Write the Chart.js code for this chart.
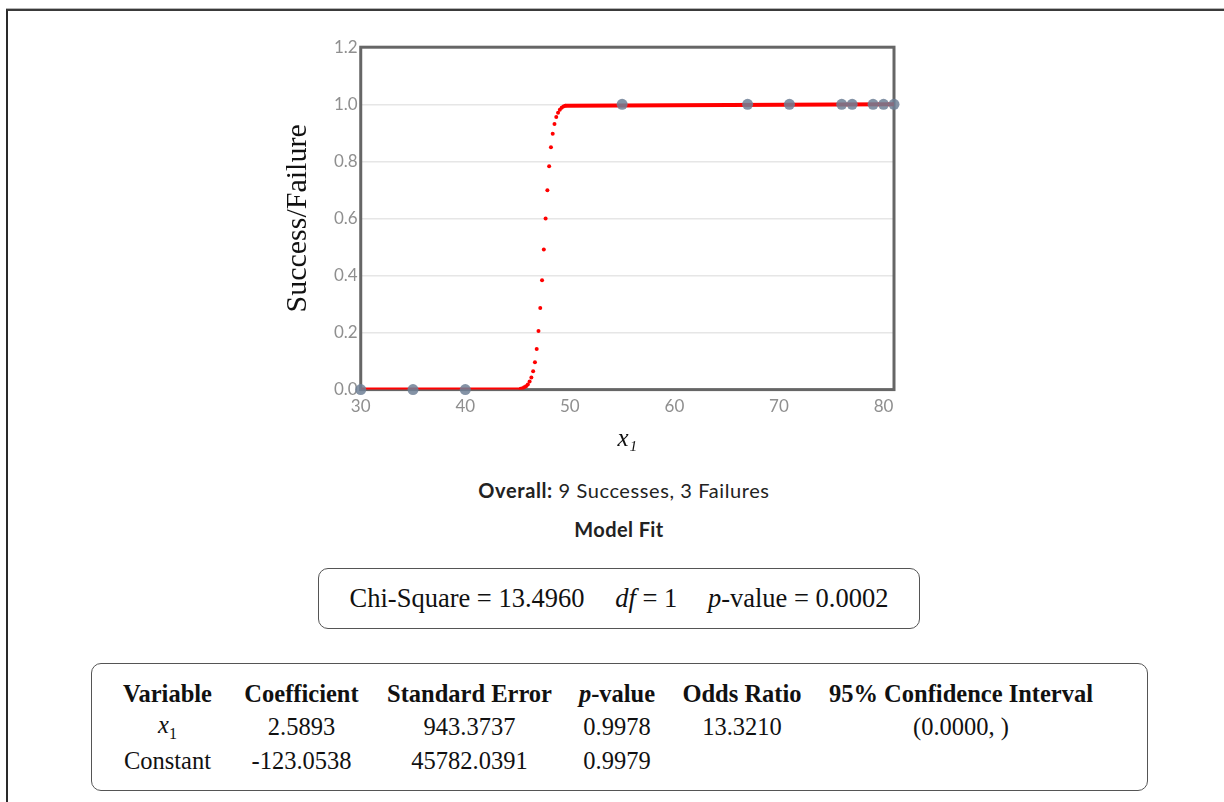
<!DOCTYPE html>
<html>
<head>
<meta charset="utf-8">
<script src="https://cdn.jsdelivr.net/npm/chart.js@4/dist/chart.umd.min.js"></script>
<style>
  body { margin: 0; background: #fff; width: 1224px; height: 802px; overflow: hidden; position: relative; }
  .page { position: absolute; left: 6px; top: 9px; right: -10px; bottom: -10px; border-top: 2px solid #3a3a3a; border-left: 2px solid #2a2a2a; box-shadow: 0 -1px 0 #b5b5b5; }
  #chartBox { position: absolute; left: 280px; top: 34px; width: 632px; height: 420px; }
  .sans { font-family: Lato, "Open Sans", sans-serif; color: #222; position: absolute; text-align: center; }
  #overall { left: 374px; width: 500px; top: 478px; font-size: 20px; letter-spacing: 0.6px; }
  #overall b { font-weight: 700; }
  #modelFit { left: 369px; width: 500px; top: 517px; font-size: 20px; font-weight: 700; letter-spacing: 0.4px; }
  .box { position: absolute; border: 1.5px solid #555; border-radius: 10px; background: #fff; }
  #chiBox { left: 318px; top: 568px; width: 600px; height: 59px; font-family: "Liberation Serif", serif; font-size: 26.5px; color: #111; text-align: center; line-height: 59px; }
  #chiBox span.gap { display: inline-block; width: 24px; }
  #tableBox { left: 91px; top: 663px; width: 1055px; height: 126px; }
  table { position: absolute; left: 14px; top: 13px; border-collapse: collapse; table-layout: fixed; font-family: "Liberation Serif", serif; font-size: 24.5px; color: #111; }
  td, th { text-align: center; padding: 0; height: 33.5px; white-space: nowrap; }
  th { font-weight: 700; }
  i { font-style: italic; }
</style>
</head>
<body>
<div class="page"></div>
<div id="chartBox"><canvas id="fitChart"></canvas></div>
<div id="overall" class="sans"><b>Overall:</b> 9 Successes, 3 Failures</div>
<div id="modelFit" class="sans">Model Fit</div>
<div id="chiBox" class="box">Chi-Square = 13.4960<span class="gap"></span> <i>df</i> = 1<span class="gap"></span> <i>p</i>-value = 0.0002</div>
<div id="tableBox" class="box">
  <table>
    <colgroup>
      <col style="width:123px"><col style="width:145px"><col style="width:191px"><col style="width:104px"><col style="width:146px"><col style="width:292px">
    </colgroup>
    <tr><th>Variable</th><th>Coefficient</th><th>Standard Error</th><th><i>p</i>-value</th><th>Odds Ratio</th><th>95% Confidence Interval</th></tr>
    <tr><td><i>x</i><sub style="font-size:16px">1</sub></td><td>2.5893</td><td>943.3737</td><td>0.9978</td><td>13.3210</td><td>(0.0000, )</td></tr>
    <tr><td>Constant</td><td>-123.0538</td><td>45782.0391</td><td>0.9979</td><td></td><td></td></tr>
  </table>
</div>
<script>
// observed outcomes (0 = failure, 1 = success)
const obsX = [30, 35, 40, 55, 67, 71, 76, 77, 79, 80, 81];
const obsY = [0, 0, 0, 1, 1, 1, 1, 1, 1, 1, 1];

const fitX = [45.30, 45.47, 45.64, 45.81, 45.98, 46.15, 46.32, 46.49, 46.66, 46.83, 47.00, 47.17, 47.34,
              47.51, 47.68, 47.85, 48.02, 48.19, 48.36, 48.53, 48.70, 48.87, 49.04, 49.21, 49.38, 49.55];
const fitY = [0.003, 0.005, 0.008, 0.012, 0.018, 0.028, 0.042, 0.064, 0.096, 0.142, 0.205, 0.286, 0.383,
              0.491, 0.600, 0.699, 0.783, 0.849, 0.897, 0.931, 0.955, 0.970, 0.981, 0.988, 0.992, 0.995];

// flat parts of the fitted curve (null breaks the line)
const flatX = [30, 45.30, 47.5, 49.55, 81];
const flatY = [0, 0, null, 0.995, 1];

const xTicks = [30, 40, 50, 60, 70, 80];
const yTicks = [0, 0.2, 0.4, 0.6, 0.8, 1.0, 1.2];

function toPoints(xs, ys) {
    return xs.map((x, i) => ({ x: x, y: ys[i] }));
}

// frame around the plot area
const framePlugin = {
    id: 'frame',
    beforeDatasetsDraw(chart) {
        const a = chart.chartArea;
        const ctx = chart.ctx;
        ctx.save();
        ctx.strokeStyle = '#666';
        ctx.lineWidth = 3;
        ctx.strokeRect(a.left, a.top, a.right - a.left, a.bottom - a.top);
        ctx.restore();
    }
};

const ctx = document.getElementById('fitChart').getContext('2d');
new Chart(ctx, {
    type: 'scatter',
    data: {
        datasets: [{
            label: 'Observed',
            data: toPoints(obsX, obsY),
            pointRadius: 5.5,
            backgroundColor: 'rgba(110, 128, 150, 0.85)',
            borderWidth: 0,
            clip: false,
            order: 0
        }, {
            label: 'Fit',
            data: toPoints(fitX, fitY),
            pointRadius: 2,
            backgroundColor: '#ff0000',
            borderWidth: 0,
            order: 1
        }, {
            label: 'Fit flat',
            data: toPoints(flatX, flatY),
            showLine: true,
            borderColor: '#ff0000',
            borderWidth: 4,
            pointRadius: 0,
            spanGaps: false,
            order: 2
        }]
    },
    options: {
        responsive: true,
        maintainAspectRatio: false,
        animation: false,
        layout: { padding: { top: 4, right: 18, left: 0, bottom: 0 } },
        plugins: {
            legend: { display: false },
            tooltip: { enabled: false }
        },
        scales: {
            x: {
                type: 'linear',
                min: 30,
                max: 81,
                afterBuildTicks: axis => { axis.ticks = xTicks.map(v => ({ value: v })); },
                grid: { display: false, drawTicks: false },
                border: { display: false },
                ticks: {
                    color: '#8f8f8f',
                    font: { family: 'Lato', size: 17 },
                    padding: 7,
                    maxRotation: 0
                },
                title: {
                    display: true,
                    text: 'x\u2081',
                    color: '#111',
                    font: { family: 'Liberation Serif', size: 25, style: 'italic' },
                    padding: { top: 0, bottom: 0 }
                }
            },
            y: {
                min: 0,
                max: 1.2,
                afterBuildTicks: axis => { axis.ticks = yTicks.map(v => ({ value: v })); },
                grid: { color: '#e6e6e6', lineWidth: 1.5, drawTicks: false },
                border: { display: false },
                ticks: {
                    color: '#8f8f8f',
                    font: { family: 'Lato', size: 17 },
                    padding: 3,
                    callback: v => v.toFixed(1)
                },
                title: {
                    display: true,
                    text: 'Success/Failure',
                    color: '#111',
                    font: { family: 'Liberation Serif', size: 30 },
                    padding: { top: 0, bottom: 15 }
                }
            }
        }
    },
    plugins: [framePlugin]
});
</script>
</body>
</html>
